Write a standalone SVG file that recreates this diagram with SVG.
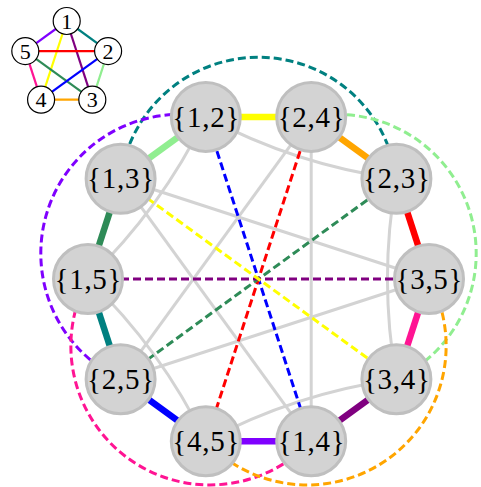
<svg xmlns="http://www.w3.org/2000/svg" width="481" height="487" viewBox="0 0 481 487">
<style>
.g{fill:none;stroke:#d3d3d3;stroke-width:3}
.t{fill:none;stroke-width:6.5}
.d{fill:none;stroke-width:3;stroke-dasharray:8 4}
.k{fill:none;stroke-width:2.2}
.node circle{fill:#d3d3d3;stroke:#bfbfbf;stroke-width:3}
.node text{font-family:"Liberation Serif","DejaVu Serif",serif;font-size:29px;text-anchor:middle;fill:#000}
.sn circle{fill:#fff;stroke:#000;stroke-width:1.2}
.sn text{font-family:"Liberation Serif","DejaVu Serif",serif;font-size:22px;text-anchor:middle;fill:#000}
</style>
<rect width="481" height="487" fill="#fff"/>
<g id="connectors">
<path class="g" d="M429,279 L120.6,178.8"/>
<path class="g" d="M429,279 L120.6,379.2"/>
<path class="g" d="M311.2,116.9 L120.6,379.2"/>
<path class="g" d="M311.2,116.9 L311.2,441.2"/>
<path class="g" d="M120.6,178.8 L311.2,441.2"/>
<path class="g" d="M396.4,178.8 Q295.6,164.9 205.8,116.9"/>
<path class="g" d="M205.8,116.9 Q161.4,208.5 88,279"/>
<path class="g" d="M88,279 Q161.4,349.5 205.8,441.2"/>
<path class="g" d="M205.8,441.2 Q295.6,393.1 396.4,379.2"/>
<path class="g" d="M396.4,379.2 Q378.5,279 396.4,178.8"/>
<path class="t" stroke="#ffff00" d="M205.8,116.9 L311.2,116.9"/>
<path class="t" stroke="#ffa500" d="M311.2,116.9 L396.4,178.8"/>
<path class="t" stroke="#ff0000" d="M396.4,178.8 L429,279"/>
<path class="t" stroke="#ff1493" d="M429,279 L396.4,379.2"/>
<path class="t" stroke="#800080" d="M396.4,379.2 L311.2,441.2"/>
<path class="t" stroke="#7f00ff" d="M311.2,441.2 L205.8,441.2"/>
<path class="t" stroke="#0000ff" d="M205.8,441.2 L120.6,379.2"/>
<path class="t" stroke="#008080" d="M120.6,379.2 L88,279"/>
<path class="t" stroke="#2e8b57" d="M88,279 L120.6,178.8"/>
<path class="t" stroke="#90ee90" d="M120.6,178.8 L205.8,116.9"/>
<path class="d" stroke="#0000ff" d="M205.8,116.9 L311.2,441.2"/>
<path class="d" stroke="#ff0000" d="M311.2,116.9 L205.8,441.2"/>
<path class="d" stroke="#2e8b57" d="M396.4,178.8 L120.6,379.2"/>
<path class="d" stroke="#800080" d="M429,279 L88,279"/>
<path class="d" stroke="#ffff00" d="M396.4,379.2 L120.6,178.8"/>
<path class="d" stroke="#008080" d="M120.6,178.8 A139,139 0 0 1 396.4,178.8"/>
<path class="d" stroke="#7f00ff" transform="rotate(-72 258.5 279)" d="M120.6,178.8 A139,139 0 0 1 396.4,178.8"/>
<path class="d" stroke="#90ee90" transform="rotate(72 258.5 279)" d="M120.6,178.8 A139,139 0 0 1 396.4,178.8"/>
<path class="d" stroke="#ff1493" transform="rotate(-144 258.5 279)" d="M120.6,178.8 A139,139 0 0 1 396.4,178.8"/>
<path class="d" stroke="#ffa500" transform="rotate(144 258.5 279)" d="M120.6,178.8 A139,139 0 0 1 396.4,178.8"/>
</g>
<g id="n12" class="node"><circle cx="205.8" cy="116.9" r="34.5"/><text x="205.8" y="126.5" textLength="67" lengthAdjust="spacing">{1,2}</text></g>
<g id="n24" class="node"><circle cx="311.2" cy="116.9" r="34.5"/><text x="311.2" y="126.5" textLength="67" lengthAdjust="spacing">{2,4}</text></g>
<g id="n23" class="node"><circle cx="396.4" cy="178.8" r="34.5"/><text x="396.4" y="188.4" textLength="67" lengthAdjust="spacing">{2,3}</text></g>
<g id="n35" class="node"><circle cx="429" cy="279" r="34.5"/><text x="429" y="288.6" textLength="67" lengthAdjust="spacing">{3,5}</text></g>
<g id="n34" class="node"><circle cx="396.4" cy="379.2" r="34.5"/><text x="396.4" y="388.8" textLength="67" lengthAdjust="spacing">{3,4}</text></g>
<g id="n14" class="node"><circle cx="311.2" cy="441.2" r="34.5"/><text x="311.2" y="450.8" textLength="67" lengthAdjust="spacing">{1,4}</text></g>
<g id="n45" class="node"><circle cx="205.8" cy="441.2" r="34.5"/><text x="205.8" y="450.8" textLength="67" lengthAdjust="spacing">{4,5}</text></g>
<g id="n25" class="node"><circle cx="120.6" cy="379.2" r="34.5"/><text x="120.6" y="388.8" textLength="67" lengthAdjust="spacing">{2,5}</text></g>
<g id="n15" class="node"><circle cx="88" cy="279" r="34.5"/><text x="88" y="288.6" textLength="67" lengthAdjust="spacing">{1,5}</text></g>
<g id="n13" class="node"><circle cx="120.6" cy="178.8" r="34.5"/><text x="120.6" y="188.4" textLength="67" lengthAdjust="spacing">{1,3}</text></g>
<g id="k5-edges">
<path class="k" stroke="#7f00ff" d="M66.7,21 L25.3,51.1"/>
<path class="k" stroke="#008080" d="M66.7,21 L108.1,51.1"/>
<path class="k" stroke="#ffff00" d="M66.7,21 L41.1,99.7"/>
<path class="k" stroke="#800080" d="M66.7,21 L92.3,99.7"/>
<path class="k" stroke="#ff0000" d="M25.3,51.1 L108.1,51.1"/>
<path class="k" stroke="#2e8b57" d="M25.3,51.1 L92.3,99.7"/>
<path class="k" stroke="#ff1493" d="M25.3,51.1 L41.1,99.7"/>
<path class="k" stroke="#0000ff" d="M108.1,51.1 L41.1,99.7"/>
<path class="k" stroke="#90ee90" d="M108.1,51.1 L92.3,99.7"/>
<path class="k" stroke="#ffa500" d="M41.1,99.7 L92.3,99.7"/>
</g>
<g id="k1" class="sn"><circle cx="66.7" cy="21" r="13.5"/><text x="66.7" y="28.5">1</text></g>
<g id="k2" class="sn"><circle cx="108.1" cy="51.1" r="13.5"/><text x="108.1" y="58.6">2</text></g>
<g id="k3" class="sn"><circle cx="92.3" cy="99.7" r="13.5"/><text x="92.3" y="107.2">3</text></g>
<g id="k4" class="sn"><circle cx="41.1" cy="99.7" r="13.5"/><text x="41.1" y="107.2">4</text></g>
<g id="k5" class="sn"><circle cx="25.3" cy="51.1" r="13.5"/><text x="25.3" y="58.6">5</text></g>
</svg>
